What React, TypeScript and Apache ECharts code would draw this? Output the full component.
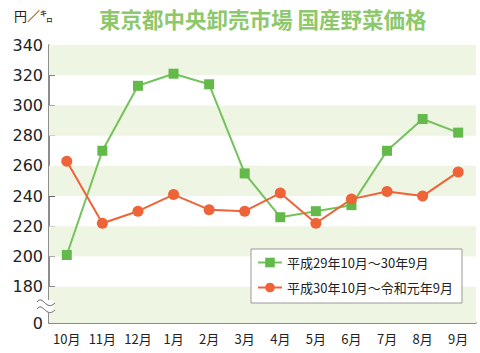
import React, { useEffect, useRef } from "react";
import * as echarts from "echarts";

const months = ["10月", "11月", "12月", "1月", "2月", "3月", "4月", "5月", "6月", "7月", "8月", "9月"];
const seriesA = [201, 270, 313, 321, 314, 255, 226, 230, 234, 270, 291, 282];
const seriesB = [263, 222, 230, 241, 231, 230, 242, 222, 238, 243, 240, 256];
const nameA = "平成29年10月～30年9月";
const nameB = "平成30年10月～令和元年9月";
const yTicks = [156, 180, 200, 220, 240, 260, 280, 300, 320, 340];
const bands: [number, number][] = [[320, 340], [280, 300], [240, 260], [200, 220], [156, 180]];

export default function App() {
  const ref = useRef<HTMLDivElement>(null);
  useEffect(() => {
    const chart = echarts.init(ref.current!, null, { renderer: "svg" });
    const green = "#63b94a";
    const orange = "#ef6338";
    chart.setOption({
      animation: false,
      backgroundColor: "#fff",
      textStyle: { fontFamily: "Liberation Sans, Noto Sans CJK JP" },
      title: {
        text: "東京都中央卸売市場 国産野菜価格",
        left: 94,
        top: 3,
        textStyle: { color: "#8dc86c", fontSize: 21.5, fontWeight: "bold", fontFamily: "Noto Sans CJK JP" },
      },
      graphic: [
        {
          type: "text",
          left: 14,
          top: 9,
          style: { text: "円／㌔", fontSize: 13, fill: "#222", fontFamily: "Noto Sans CJK JP" },
        },
        {
          type: "rect",
          z: 3,
          shape: { x: 251, y: 249, width: 211, height: 54 },
          style: { fill: "#fff", stroke: "#999", lineWidth: 1 },
        },
        {
          type: "rect",
          z: 10,
          shape: { x: 44, y: 300, width: 10, height: 13 },
          style: { fill: "#fff" },
        },
        {
          type: "bezierCurve",
          z: 11,
          shape: { x1: 37, y1: 302, cpx1: 43, cpy1: 294, cpx2: 46, cpy2: 312, x2: 55, y2: 303 },
          style: { stroke: "#666", lineWidth: 1, fill: "none" },
        },
        {
          type: "bezierCurve",
          z: 11,
          shape: { x1: 37, y1: 309, cpx1: 43, cpy1: 301, cpx2: 46, cpy2: 319, x2: 55, y2: 310 },
          style: { stroke: "#666", lineWidth: 1, fill: "none" },
        },
      ],
      legend: {
        orient: "vertical",
        left: 253,
        top: 253,
        z: 20,
        itemWidth: 24,
        itemHeight: 12,
        itemGap: 12,
        padding: [3, 4, 3, 4],
        textStyle: { fontSize: 13, color: "#222", fontFamily: "Noto Sans CJK JP" },
        data: [nameA, nameB],
      },
      grid: { left: 49, right: 4, top: 45, bottom: 30, containLabel: false },
      xAxis: {
        type: "category",
        data: months,
        boundaryGap: true,
        axisLine: { lineStyle: { color: "#666", width: 1.5 } },
        axisTick: { inside: true, alignWithLabel: true, interval: 0, length: 6, lineStyle: { color: "#666" } },
        axisLabel: { color: "#222", fontSize: 13, margin: 9, interval: 0, hideOverlap: false, fontFamily: "Noto Sans CJK JP" },
        splitLine: { show: false },
      },
      yAxis: {
        type: "value",
        min: 156,
        max: 340,
        axisLine: { show: true, lineStyle: { color: "#666", width: 1.5 } },
        axisTick: { show: true, inside: true, length: 6, customValues: yTicks.slice(1), lineStyle: { color: "#666" } },
        axisLabel: {
          color: "#222",
          fontSize: 16,
          margin: 6,
          fontFamily: "DejaVu Sans",
          customValues: yTicks,
          formatter: (v: number) => (v === 156 ? "0" : String(v)),
        },
        splitLine: { show: false },
      },
      series: [
        {
          name: nameA,
          type: "line",
          data: seriesA,
          symbol: "rect",
          symbolSize: 10,
          itemStyle: { color: green },
          lineStyle: { color: "#74c25c", width: 2 },
          z: 2,
          markArea: {
            silent: true,
            itemStyle: { color: "#eef5e2" },
            data: bands.map(([a, b]) => [{ yAxis: a }, { yAxis: b }]),
          },
        },
        {
          name: nameB,
          type: "line",
          data: seriesB,
          symbol: "circle",
          symbolSize: 11,
          itemStyle: { color: orange },
          lineStyle: { color: orange, width: 2 },
          z: 2,
        },
      ],
    });
    return () => chart.dispose();
  }, []);
  return <div ref={ref} style={{ position: "fixed", left: 0, top: 0, width: 480, height: 353 }} />;
}
